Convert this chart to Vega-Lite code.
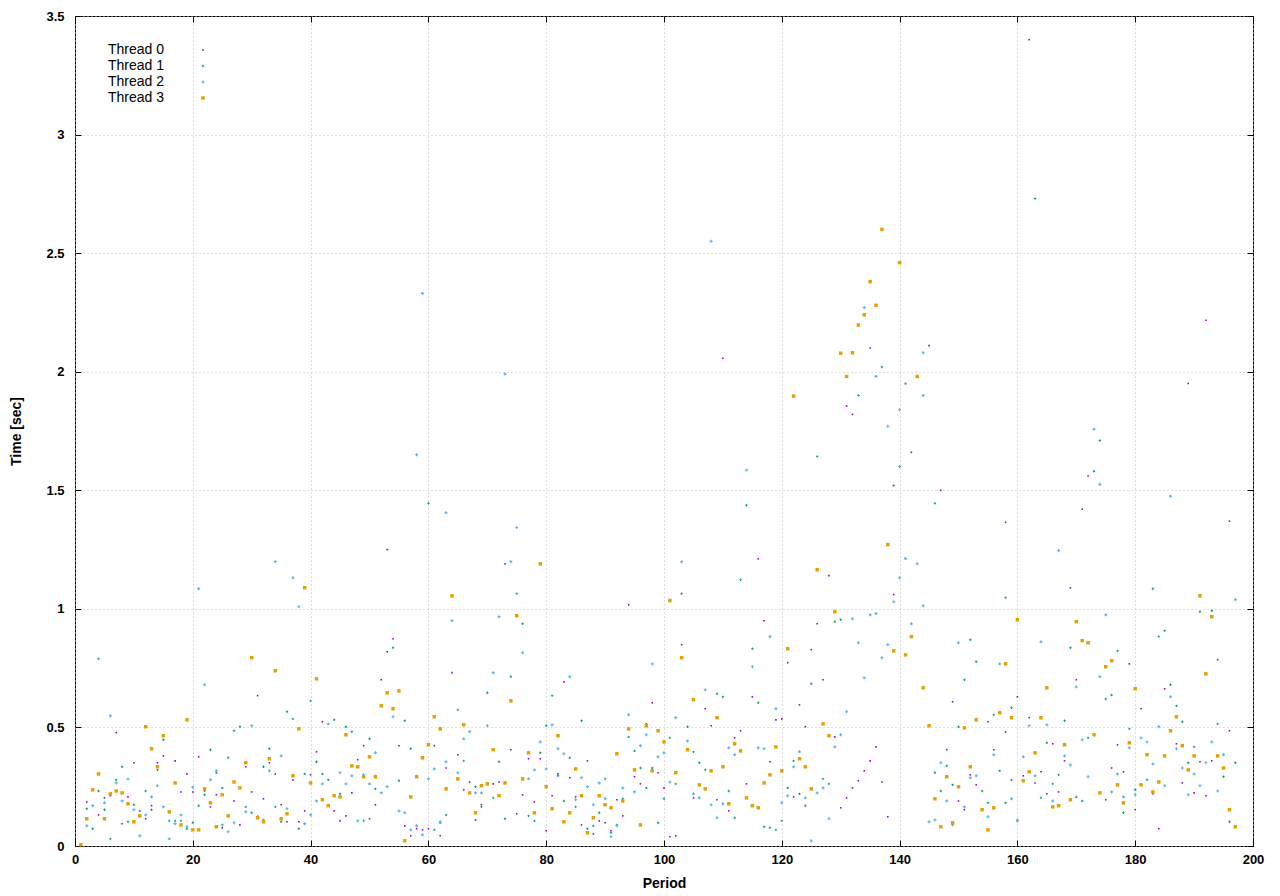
{
  "$schema": "https://vega.github.io/schema/vega-lite/v6.json",
  "autosize": {"type": "none"},
  "width": 1178,
  "height": 830,
  "padding": {"left": 75, "top": 16, "right": 27, "bottom": 50},
  "background": "white",
  "config": {
    "view": {"stroke": "black", "strokeWidth": 1},
    "font": "Liberation Sans",
    "axis": {"domain": false, "labelFont": "Liberation Sans", "titleFont": "Liberation Sans"}
  },
  "data": {"values": [
{"period":7,"time":0.478,"thread":"Thread 0"},{"period":15,"time":0.38,"thread":"Thread 0"},{"period":10,"time":0.351,"thread":"Thread 0"},{"period":14,"time":0.351,"thread":"Thread 0"},{"period":17,"time":0.359,"thread":"Thread 0"},{"period":19,"time":0.304,"thread":"Thread 0"},{"period":18,"time":0.228,"thread":"Thread 0"},{"period":20,"time":0.228,"thread":"Thread 0"},{"period":5,"time":0.203,"thread":"Thread 0"},{"period":6,"time":0.212,"thread":"Thread 0"},{"period":9,"time":0.207,"thread":"Thread 0"},{"period":2,"time":0.186,"thread":"Thread 0"},{"period":13,"time":0.17,"thread":"Thread 0"},{"period":4,"time":0.131,"thread":"Thread 0"},{"period":12,"time":0.115,"thread":"Thread 0"},{"period":8,"time":0.094,"thread":"Thread 0"},
{"period":31,"time":0.634,"thread":"Thread 0"},{"period":21,"time":0.376,"thread":"Thread 0"},{"period":29,"time":0.334,"thread":"Thread 0"},{"period":33,"time":0.351,"thread":"Thread 0"},{"period":34,"time":0.304,"thread":"Thread 0"},{"period":37,"time":0.279,"thread":"Thread 0"},{"period":22,"time":0.232,"thread":"Thread 0"},{"period":24,"time":0.216,"thread":"Thread 0"},{"period":30,"time":0.228,"thread":"Thread 0"},{"period":27,"time":0.19,"thread":"Thread 0"},{"period":32,"time":0.199,"thread":"Thread 0"},{"period":23,"time":0.165,"thread":"Thread 0"},{"period":35,"time":0.174,"thread":"Thread 0"},{"period":39,"time":0.148,"thread":"Thread 0"},{"period":36,"time":0.102,"thread":"Thread 0"},{"period":38,"time":0.102,"thread":"Thread 0"},{"period":28,"time":0.089,"thread":"Thread 0"},{"period":25,"time":0.077,"thread":"Thread 0"},{"period":40,"time":0.3,"thread":"Thread 0"},
{"period":54,"time":0.874,"thread":"Thread 0"},{"period":53,"time":0.819,"thread":"Thread 0"},{"period":52,"time":0.701,"thread":"Thread 0"},{"period":42,"time":0.524,"thread":"Thread 0"},{"period":49,"time":0.423,"thread":"Thread 0"},{"period":55,"time":0.423,"thread":"Thread 0"},{"period":41,"time":0.397,"thread":"Thread 0"},{"period":48,"time":0.364,"thread":"Thread 0"},{"period":47,"time":0.224,"thread":"Thread 0"},{"period":51,"time":0.174,"thread":"Thread 0"},{"period":44,"time":0.148,"thread":"Thread 0"},{"period":46,"time":0.127,"thread":"Thread 0"},{"period":50,"time":0.115,"thread":"Thread 0"},{"period":45,"time":0.106,"thread":"Thread 0"},{"period":56,"time":0.085,"thread":"Thread 0"},{"period":58,"time":0.073,"thread":"Thread 0"},{"period":59,"time":0.068,"thread":"Thread 0"},{"period":57,"time":0.043,"thread":"Thread 0"},{"period":60,"time":0.073,"thread":"Thread 0"},
{"period":73,"time":1.19,"thread":"Thread 0"},{"period":64,"time":0.731,"thread":"Thread 0"},{"period":61,"time":0.423,"thread":"Thread 0"},{"period":74,"time":0.406,"thread":"Thread 0"},{"period":65,"time":0.385,"thread":"Thread 0"},{"period":77,"time":0.368,"thread":"Thread 0"},{"period":79,"time":0.368,"thread":"Thread 0"},{"period":63,"time":0.329,"thread":"Thread 0"},{"period":67,"time":0.27,"thread":"Thread 0"},{"period":72,"time":0.27,"thread":"Thread 0"},{"period":71,"time":0.262,"thread":"Thread 0"},{"period":66,"time":0.237,"thread":"Thread 0"},{"period":76,"time":0.216,"thread":"Thread 0"},{"period":78,"time":0.186,"thread":"Thread 0"},{"period":69,"time":0.174,"thread":"Thread 0"},{"period":75,"time":0.136,"thread":"Thread 0"},{"period":68,"time":0.11,"thread":"Thread 0"},{"period":80,"time":0.064,"thread":"Thread 0"},{"period":62,"time":0.043,"thread":"Thread 0"},
{"period":94,"time":1.017,"thread":"Thread 0"},{"period":83,"time":0.692,"thread":"Thread 0"},{"period":98,"time":0.604,"thread":"Thread 0"},{"period":97,"time":0.515,"thread":"Thread 0"},{"period":87,"time":0.359,"thread":"Thread 0"},{"period":99,"time":0.309,"thread":"Thread 0"},{"period":82,"time":0.304,"thread":"Thread 0"},{"period":84,"time":0.288,"thread":"Thread 0"},{"period":95,"time":0.292,"thread":"Thread 0"},{"period":96,"time":0.262,"thread":"Thread 0"},{"period":100,"time":0.245,"thread":"Thread 0"},{"period":81,"time":0.212,"thread":"Thread 0"},{"period":85,"time":0.207,"thread":"Thread 0"},{"period":92,"time":0.195,"thread":"Thread 0"},{"period":93,"time":0.127,"thread":"Thread 0"},{"period":89,"time":0.106,"thread":"Thread 0"},{"period":90,"time":0.098,"thread":"Thread 0"},{"period":86,"time":0.089,"thread":"Thread 0"},{"period":91,"time":0.064,"thread":"Thread 0"},{"period":88,"time":0.051,"thread":"Thread 0"},
{"period":116,"time":1.211,"thread":"Thread 0"},{"period":117,"time":0.95,"thread":"Thread 0"},{"period":103,"time":0.849,"thread":"Thread 0"},{"period":115,"time":0.629,"thread":"Thread 0"},{"period":107,"time":0.579,"thread":"Thread 0"},{"period":119,"time":0.532,"thread":"Thread 0"},{"period":120,"time":0.536,"thread":"Thread 0"},{"period":108,"time":0.507,"thread":"Thread 0"},{"period":113,"time":0.486,"thread":"Thread 0"},{"period":112,"time":0.456,"thread":"Thread 0"},{"period":118,"time":0.355,"thread":"Thread 0"},{"period":114,"time":0.262,"thread":"Thread 0"},{"period":105,"time":0.203,"thread":"Thread 0"},{"period":109,"time":0.195,"thread":"Thread 0"},{"period":111,"time":0.148,"thread":"Thread 0"},{"period":101,"time":0.039,"thread":"Thread 0"},{"period":102,"time":0.043,"thread":"Thread 0"},
{"period":128,"time":1.14,"thread":"Thread 0"},{"period":139,"time":1.06,"thread":"Thread 0"},{"period":126,"time":0.937,"thread":"Thread 0"},{"period":125,"time":0.828,"thread":"Thread 0"},{"period":121,"time":0.773,"thread":"Thread 0"},{"period":127,"time":0.701,"thread":"Thread 0"},{"period":123,"time":0.595,"thread":"Thread 0"},{"period":124,"time":0.503,"thread":"Thread 0"},{"period":129,"time":0.46,"thread":"Thread 0"},{"period":136,"time":0.418,"thread":"Thread 0"},{"period":135,"time":0.359,"thread":"Thread 0"},{"period":134,"time":0.317,"thread":"Thread 0"},{"period":133,"time":0.275,"thread":"Thread 0"},{"period":137,"time":0.27,"thread":"Thread 0"},{"period":132,"time":0.245,"thread":"Thread 0"},{"period":122,"time":0.207,"thread":"Thread 0"},{"period":131,"time":0.203,"thread":"Thread 0"},{"period":130,"time":0.161,"thread":"Thread 0"},{"period":138,"time":0.123,"thread":"Thread 0"},
{"period":149,"time":0.608,"thread":"Thread 0"},{"period":160,"time":0.629,"thread":"Thread 0"},{"period":155,"time":0.524,"thread":"Thread 0"},{"period":158,"time":0.481,"thread":"Thread 0"},{"period":148,"time":0.406,"thread":"Thread 0"},{"period":156,"time":0.406,"thread":"Thread 0"},{"period":152,"time":0.3,"thread":"Thread 0"},{"period":159,"time":0.279,"thread":"Thread 0"},{"period":153,"time":0.258,"thread":"Thread 0"},{"period":150,"time":0.19,"thread":"Thread 0"},{"period":151,"time":0.153,"thread":"Thread 0"},
{"period":169,"time":1.089,"thread":"Thread 0"},{"period":179,"time":0.768,"thread":"Thread 0"},{"period":170,"time":0.701,"thread":"Thread 0"},{"period":162,"time":0.541,"thread":"Thread 0"},{"period":166,"time":0.431,"thread":"Thread 0"},{"period":177,"time":0.427,"thread":"Thread 0"},{"period":168,"time":0.359,"thread":"Thread 0"},{"period":176,"time":0.329,"thread":"Thread 0"},{"period":164,"time":0.313,"thread":"Thread 0"},{"period":178,"time":0.313,"thread":"Thread 0"},{"period":161,"time":0.296,"thread":"Thread 0"},{"period":163,"time":0.266,"thread":"Thread 0"},{"period":167,"time":0.228,"thread":"Thread 0"},{"period":165,"time":0.22,"thread":"Thread 0"},{"period":175,"time":0.195,"thread":"Thread 0"},{"period":180,"time":0.153,"thread":"Thread 0"},
{"period":194,"time":0.786,"thread":"Thread 0"},{"period":185,"time":0.663,"thread":"Thread 0"},{"period":181,"time":0.579,"thread":"Thread 0"},{"period":196,"time":0.486,"thread":"Thread 0"},{"period":187,"time":0.431,"thread":"Thread 0"},{"period":191,"time":0.355,"thread":"Thread 0"},{"period":193,"time":0.359,"thread":"Thread 0"},{"period":188,"time":0.266,"thread":"Thread 0"},{"period":183,"time":0.22,"thread":"Thread 0"},{"period":190,"time":0.224,"thread":"Thread 0"},{"period":192,"time":0.212,"thread":"Thread 0"},{"period":184,"time":0.073,"thread":"Thread 0"},
{"period":110,"time":2.057,"thread":"Thread 0"},{"period":131,"time":1.855,"thread":"Thread 0"},{"period":132,"time":1.82,"thread":"Thread 0"},{"period":135,"time":2.1,"thread":"Thread 0"},{"period":142,"time":1.66,"thread":"Thread 0"},{"period":145,"time":2.11,"thread":"Thread 0"},{"period":147,"time":1.5,"thread":"Thread 0"},{"period":158,"time":1.365,"thread":"Thread 0"},{"period":162,"time":3.4,"thread":"Thread 0"},{"period":171,"time":1.42,"thread":"Thread 0"},{"period":172,"time":1.56,"thread":"Thread 0"},{"period":189,"time":1.95,"thread":"Thread 0"},{"period":192,"time":2.217,"thread":"Thread 0"},{"period":196,"time":1.37,"thread":"Thread 0"},

{"period":15,"time":0.448,"thread":"Thread 1"},{"period":14,"time":0.321,"thread":"Thread 1"},{"period":8,"time":0.334,"thread":"Thread 1"},{"period":7,"time":0.279,"thread":"Thread 1"},{"period":4,"time":0.232,"thread":"Thread 1"},{"period":12,"time":0.232,"thread":"Thread 1"},{"period":10,"time":0.174,"thread":"Thread 1"},{"period":2,"time":0.157,"thread":"Thread 1"},{"period":11,"time":0.148,"thread":"Thread 1"},{"period":13,"time":0.153,"thread":"Thread 1"},{"period":16,"time":0.106,"thread":"Thread 1"},{"period":17,"time":0.106,"thread":"Thread 1"},{"period":18,"time":0.106,"thread":"Thread 1"},{"period":9,"time":0.102,"thread":"Thread 1"},{"period":3,"time":0.073,"thread":"Thread 1"},{"period":19,"time":0.073,"thread":"Thread 1"},{"period":20,"time":0.098,"thread":"Thread 1"},{"period":6,"time":0.03,"thread":"Thread 1"},{"period":5,"time":0.153,"thread":"Thread 1"},
{"period":40,"time":0.612,"thread":"Thread 1"},{"period":36,"time":0.566,"thread":"Thread 1"},{"period":37,"time":0.536,"thread":"Thread 1"},{"period":27,"time":0.486,"thread":"Thread 1"},{"period":28,"time":0.503,"thread":"Thread 1"},{"period":23,"time":0.406,"thread":"Thread 1"},{"period":26,"time":0.372,"thread":"Thread 1"},{"period":33,"time":0.41,"thread":"Thread 1"},{"period":32,"time":0.334,"thread":"Thread 1"},{"period":24,"time":0.309,"thread":"Thread 1"},{"period":39,"time":0.304,"thread":"Thread 1"},{"period":25,"time":0.245,"thread":"Thread 1"},{"period":22,"time":0.216,"thread":"Thread 1"},{"period":21,"time":0.17,"thread":"Thread 1"},{"period":29,"time":0.165,"thread":"Thread 1"},{"period":34,"time":0.165,"thread":"Thread 1"},{"period":30,"time":0.14,"thread":"Thread 1"},{"period":35,"time":0.102,"thread":"Thread 1"},{"period":38,"time":0.073,"thread":"Thread 1"},
{"period":53,"time":1.25,"thread":"Thread 1"},{"period":54,"time":0.836,"thread":"Thread 1"},{"period":44,"time":0.532,"thread":"Thread 1"},{"period":56,"time":0.528,"thread":"Thread 1"},{"period":46,"time":0.503,"thread":"Thread 1"},{"period":47,"time":0.482,"thread":"Thread 1"},{"period":50,"time":0.452,"thread":"Thread 1"},{"period":57,"time":0.41,"thread":"Thread 1"},{"period":41,"time":0.355,"thread":"Thread 1"},{"period":42,"time":0.304,"thread":"Thread 1"},{"period":43,"time":0.279,"thread":"Thread 1"},{"period":55,"time":0.275,"thread":"Thread 1"},{"period":51,"time":0.241,"thread":"Thread 1"},{"period":45,"time":0.22,"thread":"Thread 1"},{"period":49,"time":0.106,"thread":"Thread 1"},
{"period":76,"time":0.937,"thread":"Thread 1"},{"period":74,"time":0.714,"thread":"Thread 1"},{"period":70,"time":0.646,"thread":"Thread 1"},{"period":65,"time":0.574,"thread":"Thread 1"},{"period":80,"time":0.507,"thread":"Thread 1"},{"period":79,"time":0.393,"thread":"Thread 1"},{"period":66,"time":0.359,"thread":"Thread 1"},{"period":72,"time":0.355,"thread":"Thread 1"},{"period":68,"time":0.25,"thread":"Thread 1"},{"period":71,"time":0.203,"thread":"Thread 1"},{"period":69,"time":0.165,"thread":"Thread 1"},{"period":77,"time":0.127,"thread":"Thread 1"},{"period":73,"time":0.115,"thread":"Thread 1"},{"period":78,"time":0.106,"thread":"Thread 1"},{"period":62,"time":0.098,"thread":"Thread 1"},{"period":63,"time":0.131,"thread":"Thread 1"},{"period":61,"time":0.068,"thread":"Thread 1"},
{"period":81,"time":0.634,"thread":"Thread 1"},{"period":86,"time":0.528,"thread":"Thread 1"},{"period":94,"time":0.46,"thread":"Thread 1"},{"period":95,"time":0.401,"thread":"Thread 1"},{"period":84,"time":0.372,"thread":"Thread 1"},{"period":96,"time":0.329,"thread":"Thread 1"},{"period":98,"time":0.329,"thread":"Thread 1"},{"period":82,"time":0.296,"thread":"Thread 1"},{"period":90,"time":0.283,"thread":"Thread 1"},{"period":97,"time":0.245,"thread":"Thread 1"},{"period":93,"time":0.199,"thread":"Thread 1"},{"period":85,"time":0.165,"thread":"Thread 1"},{"period":89,"time":0.14,"thread":"Thread 1"},{"period":99,"time":0.098,"thread":"Thread 1"},{"period":88,"time":0.085,"thread":"Thread 1"},{"period":92,"time":0.089,"thread":"Thread 1"},{"period":87,"time":0.073,"thread":"Thread 1"},{"period":91,"time":0.056,"thread":"Thread 1"},{"period":83,"time":0.19,"thread":"Thread 1"},
{"period":113,"time":1.123,"thread":"Thread 1"},{"period":103,"time":1.064,"thread":"Thread 1"},{"period":115,"time":0.832,"thread":"Thread 1"},{"period":109,"time":0.642,"thread":"Thread 1"},{"period":110,"time":0.629,"thread":"Thread 1"},{"period":116,"time":0.604,"thread":"Thread 1"},{"period":104,"time":0.503,"thread":"Thread 1"},{"period":101,"time":0.456,"thread":"Thread 1"},{"period":105,"time":0.397,"thread":"Thread 1"},{"period":106,"time":0.351,"thread":"Thread 1"},{"period":107,"time":0.321,"thread":"Thread 1"},{"period":102,"time":0.262,"thread":"Thread 1"},{"period":111,"time":0.232,"thread":"Thread 1"},{"period":100,"time":0.199,"thread":"Thread 1"},{"period":112,"time":0.119,"thread":"Thread 1"},{"period":120,"time":0.106,"thread":"Thread 1"},{"period":117,"time":0.081,"thread":"Thread 1"},{"period":118,"time":0.077,"thread":"Thread 1"},{"period":119,"time":0.068,"thread":"Thread 1"},
{"period":129,"time":0.946,"thread":"Thread 1"},{"period":130,"time":0.954,"thread":"Thread 1"},{"period":125,"time":0.684,"thread":"Thread 1"},{"period":122,"time":0.359,"thread":"Thread 1"},{"period":127,"time":0.283,"thread":"Thread 1"},{"period":128,"time":0.262,"thread":"Thread 1"},{"period":121,"time":0.245,"thread":"Thread 1"},{"period":123,"time":0.22,"thread":"Thread 1"},{"period":124,"time":0.17,"thread":"Thread 1"},
{"period":152,"time":0.87,"thread":"Thread 1"},{"period":153,"time":0.777,"thread":"Thread 1"},{"period":151,"time":0.701,"thread":"Thread 1"},{"period":159,"time":0.583,"thread":"Thread 1"},{"period":156,"time":0.553,"thread":"Thread 1"},{"period":150,"time":0.503,"thread":"Thread 1"},{"period":148,"time":0.338,"thread":"Thread 1"},{"period":157,"time":0.317,"thread":"Thread 1"},{"period":146,"time":0.309,"thread":"Thread 1"},{"period":149,"time":0.258,"thread":"Thread 1"},{"period":147,"time":0.232,"thread":"Thread 1"},{"period":154,"time":0.232,"thread":"Thread 1"},{"period":155,"time":0.182,"thread":"Thread 1"},{"period":158,"time":0.182,"thread":"Thread 1"},{"period":160,"time":0.11,"thread":"Thread 1"},
{"period":169,"time":0.836,"thread":"Thread 1"},{"period":177,"time":0.823,"thread":"Thread 1"},{"period":176,"time":0.637,"thread":"Thread 1"},{"period":168,"time":0.528,"thread":"Thread 1"},{"period":179,"time":0.494,"thread":"Thread 1"},{"period":172,"time":0.456,"thread":"Thread 1"},{"period":165,"time":0.435,"thread":"Thread 1"},{"period":167,"time":0.3,"thread":"Thread 1"},{"period":161,"time":0.275,"thread":"Thread 1"},{"period":166,"time":0.262,"thread":"Thread 1"},{"period":180,"time":0.237,"thread":"Thread 1"},{"period":164,"time":0.203,"thread":"Thread 1"},{"period":170,"time":0.207,"thread":"Thread 1"},{"period":171,"time":0.19,"thread":"Thread 1"},{"period":178,"time":0.14,"thread":"Thread 1"},{"period":175,"time":0.62,"thread":"Thread 1"},
{"period":183,"time":1.085,"thread":"Thread 1"},{"period":191,"time":0.988,"thread":"Thread 1"},{"period":193,"time":0.992,"thread":"Thread 1"},{"period":184,"time":0.883,"thread":"Thread 1"},{"period":185,"time":0.908,"thread":"Thread 1"},{"period":186,"time":0.68,"thread":"Thread 1"},{"period":187,"time":0.591,"thread":"Thread 1"},{"period":188,"time":0.524,"thread":"Thread 1"},{"period":194,"time":0.515,"thread":"Thread 1"},{"period":190,"time":0.418,"thread":"Thread 1"},{"period":189,"time":0.351,"thread":"Thread 1"},{"period":197,"time":0.351,"thread":"Thread 1"},{"period":195,"time":0.292,"thread":"Thread 1"},{"period":182,"time":0.279,"thread":"Thread 1"},{"period":196,"time":0.102,"thread":"Thread 1"},
{"period":60,"time":1.445,"thread":"Thread 1"},{"period":114,"time":1.437,"thread":"Thread 1"},{"period":126,"time":1.643,"thread":"Thread 1"},{"period":133,"time":1.9,"thread":"Thread 1"},{"period":137,"time":2.02,"thread":"Thread 1"},{"period":139,"time":1.52,"thread":"Thread 1"},{"period":146,"time":1.445,"thread":"Thread 1"},{"period":163,"time":2.73,"thread":"Thread 1"},{"period":173,"time":1.58,"thread":"Thread 1"},{"period":174,"time":1.71,"thread":"Thread 1"},

{"period":21,"time":1.085,"thread":"Thread 2"},{"period":4,"time":0.79,"thread":"Thread 2"},{"period":6,"time":0.549,"thread":"Thread 2"},{"period":7,"time":0.266,"thread":"Thread 2"},{"period":9,"time":0.283,"thread":"Thread 2"},{"period":20,"time":0.248,"thread":"Thread 2"},{"period":14,"time":0.254,"thread":"Thread 2"},{"period":13,"time":0.207,"thread":"Thread 2"},{"period":8,"time":0.19,"thread":"Thread 2"},{"period":5,"time":0.182,"thread":"Thread 2"},{"period":3,"time":0.17,"thread":"Thread 2"},{"period":10,"time":0.153,"thread":"Thread 2"},{"period":15,"time":0.165,"thread":"Thread 2"},{"period":12,"time":0.131,"thread":"Thread 2"},{"period":18,"time":0.131,"thread":"Thread 2"},{"period":17,"time":0.094,"thread":"Thread 2"},{"period":2,"time":0.085,"thread":"Thread 2"},{"period":19,"time":0.081,"thread":"Thread 2"},{"period":11,"time":0.043,"thread":"Thread 2"},{"period":16,"time":0.03,"thread":"Thread 2"},
{"period":34,"time":1.199,"thread":"Thread 2"},{"period":37,"time":1.131,"thread":"Thread 2"},{"period":38,"time":1.009,"thread":"Thread 2"},{"period":22,"time":0.68,"thread":"Thread 2"},{"period":30,"time":0.507,"thread":"Thread 2"},{"period":35,"time":0.38,"thread":"Thread 2"},{"period":24,"time":0.317,"thread":"Thread 2"},{"period":33,"time":0.317,"thread":"Thread 2"},{"period":23,"time":0.279,"thread":"Thread 2"},{"period":36,"time":0.157,"thread":"Thread 2"},{"period":29,"time":0.144,"thread":"Thread 2"},{"period":31,"time":0.124,"thread":"Thread 2"},{"period":32,"time":0.11,"thread":"Thread 2"},{"period":27,"time":0.098,"thread":"Thread 2"},{"period":39,"time":0.094,"thread":"Thread 2"},{"period":40,"time":0.131,"thread":"Thread 2"},{"period":25,"time":0.089,"thread":"Thread 2"},{"period":26,"time":0.06,"thread":"Thread 2"},
{"period":43,"time":0.515,"thread":"Thread 2"},{"period":51,"time":0.393,"thread":"Thread 2"},{"period":45,"time":0.309,"thread":"Thread 2"},{"period":49,"time":0.3,"thread":"Thread 2"},{"period":60,"time":0.283,"thread":"Thread 2"},{"period":42,"time":0.262,"thread":"Thread 2"},{"period":46,"time":0.262,"thread":"Thread 2"},{"period":47,"time":0.296,"thread":"Thread 2"},{"period":50,"time":0.262,"thread":"Thread 2"},{"period":53,"time":0.25,"thread":"Thread 2"},{"period":52,"time":0.224,"thread":"Thread 2"},{"period":41,"time":0.19,"thread":"Thread 2"},{"period":55,"time":0.148,"thread":"Thread 2"},{"period":56,"time":0.14,"thread":"Thread 2"},{"period":48,"time":0.106,"thread":"Thread 2"},{"period":58,"time":0.085,"thread":"Thread 2"},{"period":57,"time":0.068,"thread":"Thread 2"},{"period":59,"time":0.047,"thread":"Thread 2"},{"period":54,"time":0.545,"thread":"Thread 2"},
{"period":74,"time":1.199,"thread":"Thread 2"},{"period":75,"time":1.064,"thread":"Thread 2"},{"period":64,"time":0.95,"thread":"Thread 2"},{"period":72,"time":0.967,"thread":"Thread 2"},{"period":76,"time":0.815,"thread":"Thread 2"},{"period":71,"time":0.731,"thread":"Thread 2"},{"period":70,"time":0.507,"thread":"Thread 2"},{"period":67,"time":0.482,"thread":"Thread 2"},{"period":66,"time":0.452,"thread":"Thread 2"},{"period":79,"time":0.439,"thread":"Thread 2"},{"period":63,"time":0.355,"thread":"Thread 2"},{"period":61,"time":0.325,"thread":"Thread 2"},{"period":78,"time":0.321,"thread":"Thread 2"},{"period":80,"time":0.325,"thread":"Thread 2"},{"period":65,"time":0.309,"thread":"Thread 2"},{"period":77,"time":0.283,"thread":"Thread 2"},{"period":68,"time":0.224,"thread":"Thread 2"},{"period":69,"time":0.224,"thread":"Thread 2"},{"period":62,"time":0.102,"thread":"Thread 2"},
{"period":98,"time":0.768,"thread":"Thread 2"},{"period":84,"time":0.714,"thread":"Thread 2"},{"period":94,"time":0.553,"thread":"Thread 2"},{"period":81,"time":0.511,"thread":"Thread 2"},{"period":97,"time":0.469,"thread":"Thread 2"},{"period":96,"time":0.423,"thread":"Thread 2"},{"period":82,"time":0.41,"thread":"Thread 2"},{"period":83,"time":0.389,"thread":"Thread 2"},{"period":99,"time":0.376,"thread":"Thread 2"},{"period":100,"time":0.393,"thread":"Thread 2"},{"period":86,"time":0.288,"thread":"Thread 2"},{"period":89,"time":0.266,"thread":"Thread 2"},{"period":87,"time":0.25,"thread":"Thread 2"},{"period":93,"time":0.245,"thread":"Thread 2"},{"period":95,"time":0.228,"thread":"Thread 2"},{"period":85,"time":0.195,"thread":"Thread 2"},{"period":88,"time":0.174,"thread":"Thread 2"},{"period":91,"time":0.039,"thread":"Thread 2"},{"period":90,"time":0.2,"thread":"Thread 2"},{"period":92,"time":0.085,"thread":"Thread 2"},
{"period":103,"time":1.199,"thread":"Thread 2"},{"period":118,"time":0.883,"thread":"Thread 2"},{"period":115,"time":0.756,"thread":"Thread 2"},{"period":107,"time":0.659,"thread":"Thread 2"},{"period":119,"time":0.579,"thread":"Thread 2"},{"period":102,"time":0.541,"thread":"Thread 2"},{"period":104,"time":0.443,"thread":"Thread 2"},{"period":111,"time":0.414,"thread":"Thread 2"},{"period":112,"time":0.385,"thread":"Thread 2"},{"period":116,"time":0.414,"thread":"Thread 2"},{"period":117,"time":0.41,"thread":"Thread 2"},{"period":101,"time":0.27,"thread":"Thread 2"},{"period":105,"time":0.22,"thread":"Thread 2"},{"period":106,"time":0.203,"thread":"Thread 2"},{"period":120,"time":0.182,"thread":"Thread 2"},{"period":110,"time":0.178,"thread":"Thread 2"},{"period":108,"time":0.174,"thread":"Thread 2"},{"period":109,"time":0.119,"thread":"Thread 2"},
{"period":140,"time":1.131,"thread":"Thread 2"},{"period":139,"time":1.03,"thread":"Thread 2"},{"period":132,"time":0.958,"thread":"Thread 2"},{"period":135,"time":0.975,"thread":"Thread 2"},{"period":136,"time":0.98,"thread":"Thread 2"},{"period":133,"time":0.857,"thread":"Thread 2"},{"period":138,"time":0.849,"thread":"Thread 2"},{"period":137,"time":0.794,"thread":"Thread 2"},{"period":134,"time":0.709,"thread":"Thread 2"},{"period":131,"time":0.566,"thread":"Thread 2"},{"period":130,"time":0.469,"thread":"Thread 2"},{"period":129,"time":0.418,"thread":"Thread 2"},{"period":123,"time":0.397,"thread":"Thread 2"},{"period":122,"time":0.334,"thread":"Thread 2"},{"period":127,"time":0.245,"thread":"Thread 2"},{"period":126,"time":0.224,"thread":"Thread 2"},{"period":121,"time":0.212,"thread":"Thread 2"},{"period":124,"time":0.203,"thread":"Thread 2"},{"period":128,"time":0.115,"thread":"Thread 2"},{"period":125,"time":0.022,"thread":"Thread 2"},
{"period":141,"time":1.212,"thread":"Thread 2"},{"period":143,"time":1.19,"thread":"Thread 2"},{"period":144,"time":1.013,"thread":"Thread 2"},{"period":158,"time":1.047,"thread":"Thread 2"},{"period":142,"time":0.937,"thread":"Thread 2"},{"period":150,"time":0.857,"thread":"Thread 2"},{"period":157,"time":0.768,"thread":"Thread 2"},{"period":156,"time":0.385,"thread":"Thread 2"},{"period":147,"time":0.351,"thread":"Thread 2"},{"period":152,"time":0.288,"thread":"Thread 2"},{"period":153,"time":0.296,"thread":"Thread 2"},{"period":148,"time":0.19,"thread":"Thread 2"},{"period":159,"time":0.199,"thread":"Thread 2"},{"period":151,"time":0.165,"thread":"Thread 2"},{"period":155,"time":0.123,"thread":"Thread 2"},{"period":145,"time":0.102,"thread":"Thread 2"},{"period":146,"time":0.11,"thread":"Thread 2"},{"period":149,"time":0.09,"thread":"Thread 2"},{"period":160,"time":0.105,"thread":"Thread 2"},
{"period":167,"time":1.246,"thread":"Thread 2"},{"period":175,"time":0.975,"thread":"Thread 2"},{"period":164,"time":0.861,"thread":"Thread 2"},{"period":174,"time":0.714,"thread":"Thread 2"},{"period":170,"time":0.671,"thread":"Thread 2"},{"period":162,"time":0.507,"thread":"Thread 2"},{"period":165,"time":0.511,"thread":"Thread 2"},{"period":171,"time":0.448,"thread":"Thread 2"},{"period":179,"time":0.414,"thread":"Thread 2"},{"period":161,"time":0.376,"thread":"Thread 2"},{"period":168,"time":0.38,"thread":"Thread 2"},{"period":169,"time":0.342,"thread":"Thread 2"},{"period":177,"time":0.304,"thread":"Thread 2"},{"period":163,"time":0.296,"thread":"Thread 2"},{"period":172,"time":0.292,"thread":"Thread 2"},{"period":180,"time":0.216,"thread":"Thread 2"},{"period":178,"time":0.207,"thread":"Thread 2"},{"period":166,"time":0.19,"thread":"Thread 2"},{"period":176,"time":0.228,"thread":"Thread 2"},
{"period":197,"time":1.039,"thread":"Thread 2"},{"period":186,"time":0.629,"thread":"Thread 2"},{"period":184,"time":0.503,"thread":"Thread 2"},{"period":181,"time":0.456,"thread":"Thread 2"},{"period":182,"time":0.439,"thread":"Thread 2"},{"period":193,"time":0.439,"thread":"Thread 2"},{"period":187,"time":0.41,"thread":"Thread 2"},{"period":195,"time":0.385,"thread":"Thread 2"},{"period":192,"time":0.351,"thread":"Thread 2"},{"period":183,"time":0.346,"thread":"Thread 2"},{"period":188,"time":0.329,"thread":"Thread 2"},{"period":190,"time":0.304,"thread":"Thread 2"},{"period":185,"time":0.254,"thread":"Thread 2"},{"period":191,"time":0.254,"thread":"Thread 2"},{"period":194,"time":0.232,"thread":"Thread 2"},{"period":189,"time":0.216,"thread":"Thread 2"},
{"period":58,"time":1.65,"thread":"Thread 2"},{"period":59,"time":2.33,"thread":"Thread 2"},{"period":63,"time":1.405,"thread":"Thread 2"},{"period":73,"time":1.99,"thread":"Thread 2"},{"period":75,"time":1.343,"thread":"Thread 2"},{"period":108,"time":2.55,"thread":"Thread 2"},{"period":114,"time":1.585,"thread":"Thread 2"},{"period":134,"time":2.27,"thread":"Thread 2"},{"period":136,"time":1.98,"thread":"Thread 2"},{"period":138,"time":1.77,"thread":"Thread 2"},{"period":140,"time":1.84,"thread":"Thread 2"},{"period":140,"time":1.6,"thread":"Thread 2"},{"period":141,"time":1.95,"thread":"Thread 2"},{"period":144,"time":1.9,"thread":"Thread 2"},{"period":144,"time":2.08,"thread":"Thread 2"},{"period":173,"time":1.757,"thread":"Thread 2"},{"period":174,"time":1.525,"thread":"Thread 2"},{"period":186,"time":1.475,"thread":"Thread 2"},

{"period":1,"time":0.005,"thread":"Thread 3"},{"period":12,"time":0.503,"thread":"Thread 3"},{"period":19,"time":0.532,"thread":"Thread 3"},{"period":15,"time":0.465,"thread":"Thread 3"},{"period":13,"time":0.41,"thread":"Thread 3"},{"period":14,"time":0.334,"thread":"Thread 3"},{"period":4,"time":0.304,"thread":"Thread 3"},{"period":17,"time":0.266,"thread":"Thread 3"},{"period":3,"time":0.237,"thread":"Thread 3"},{"period":6,"time":0.22,"thread":"Thread 3"},{"period":7,"time":0.232,"thread":"Thread 3"},{"period":8,"time":0.224,"thread":"Thread 3"},{"period":9,"time":0.178,"thread":"Thread 3"},{"period":16,"time":0.144,"thread":"Thread 3"},{"period":11,"time":0.127,"thread":"Thread 3"},{"period":2,"time":0.115,"thread":"Thread 3"},{"period":5,"time":0.115,"thread":"Thread 3"},{"period":10,"time":0.102,"thread":"Thread 3"},{"period":18,"time":0.089,"thread":"Thread 3"},{"period":20,"time":0.068,"thread":"Thread 3"},{"period":21,"time":0.068,"thread":"Thread 3"},
{"period":39,"time":1.089,"thread":"Thread 3"},{"period":30,"time":0.794,"thread":"Thread 3"},{"period":34,"time":0.739,"thread":"Thread 3"},{"period":38,"time":0.494,"thread":"Thread 3"},{"period":29,"time":0.351,"thread":"Thread 3"},{"period":33,"time":0.368,"thread":"Thread 3"},{"period":37,"time":0.296,"thread":"Thread 3"},{"period":27,"time":0.27,"thread":"Thread 3"},{"period":28,"time":0.245,"thread":"Thread 3"},{"period":22,"time":0.241,"thread":"Thread 3"},{"period":25,"time":0.216,"thread":"Thread 3"},{"period":23,"time":0.182,"thread":"Thread 3"},{"period":26,"time":0.127,"thread":"Thread 3"},{"period":31,"time":0.119,"thread":"Thread 3"},{"period":32,"time":0.102,"thread":"Thread 3"},{"period":36,"time":0.136,"thread":"Thread 3"},{"period":35,"time":0.115,"thread":"Thread 3"},{"period":24,"time":0.081,"thread":"Thread 3"},{"period":40,"time":0.266,"thread":"Thread 3"},
{"period":41,"time":0.705,"thread":"Thread 3"},{"period":53,"time":0.646,"thread":"Thread 3"},{"period":55,"time":0.654,"thread":"Thread 3"},{"period":52,"time":0.591,"thread":"Thread 3"},{"period":54,"time":0.579,"thread":"Thread 3"},{"period":46,"time":0.469,"thread":"Thread 3"},{"period":60,"time":0.427,"thread":"Thread 3"},{"period":50,"time":0.376,"thread":"Thread 3"},{"period":59,"time":0.372,"thread":"Thread 3"},{"period":47,"time":0.338,"thread":"Thread 3"},{"period":48,"time":0.334,"thread":"Thread 3"},{"period":49,"time":0.292,"thread":"Thread 3"},{"period":51,"time":0.292,"thread":"Thread 3"},{"period":58,"time":0.292,"thread":"Thread 3"},{"period":45,"time":0.207,"thread":"Thread 3"},{"period":44,"time":0.212,"thread":"Thread 3"},{"period":57,"time":0.207,"thread":"Thread 3"},{"period":42,"time":0.195,"thread":"Thread 3"},{"period":43,"time":0.17,"thread":"Thread 3"},{"period":56,"time":0.022,"thread":"Thread 3"},
{"period":79,"time":1.19,"thread":"Thread 3"},{"period":64,"time":1.055,"thread":"Thread 3"},{"period":75,"time":0.971,"thread":"Thread 3"},{"period":74,"time":0.612,"thread":"Thread 3"},{"period":61,"time":0.545,"thread":"Thread 3"},{"period":66,"time":0.511,"thread":"Thread 3"},{"period":62,"time":0.494,"thread":"Thread 3"},{"period":71,"time":0.406,"thread":"Thread 3"},{"period":77,"time":0.393,"thread":"Thread 3"},{"period":65,"time":0.283,"thread":"Thread 3"},{"period":76,"time":0.283,"thread":"Thread 3"},{"period":73,"time":0.266,"thread":"Thread 3"},{"period":70,"time":0.262,"thread":"Thread 3"},{"period":69,"time":0.254,"thread":"Thread 3"},{"period":80,"time":0.25,"thread":"Thread 3"},{"period":63,"time":0.241,"thread":"Thread 3"},{"period":67,"time":0.224,"thread":"Thread 3"},{"period":72,"time":0.212,"thread":"Thread 3"},{"period":68,"time":0.14,"thread":"Thread 3"},{"period":78,"time":0.14,"thread":"Thread 3"},
{"period":94,"time":0.494,"thread":"Thread 3"},{"period":97,"time":0.507,"thread":"Thread 3"},{"period":99,"time":0.486,"thread":"Thread 3"},{"period":82,"time":0.465,"thread":"Thread 3"},{"period":100,"time":0.439,"thread":"Thread 3"},{"period":92,"time":0.389,"thread":"Thread 3"},{"period":85,"time":0.325,"thread":"Thread 3"},{"period":95,"time":0.321,"thread":"Thread 3"},{"period":98,"time":0.317,"thread":"Thread 3"},{"period":86,"time":0.212,"thread":"Thread 3"},{"period":89,"time":0.212,"thread":"Thread 3"},{"period":93,"time":0.19,"thread":"Thread 3"},{"period":90,"time":0.174,"thread":"Thread 3"},{"period":91,"time":0.161,"thread":"Thread 3"},{"period":81,"time":0.157,"thread":"Thread 3"},{"period":84,"time":0.14,"thread":"Thread 3"},{"period":88,"time":0.119,"thread":"Thread 3"},{"period":83,"time":0.102,"thread":"Thread 3"},{"period":96,"time":0.089,"thread":"Thread 3"},{"period":87,"time":0.056,"thread":"Thread 3"},
{"period":101,"time":1.035,"thread":"Thread 3"},{"period":103,"time":0.794,"thread":"Thread 3"},{"period":105,"time":0.617,"thread":"Thread 3"},{"period":109,"time":0.541,"thread":"Thread 3"},{"period":112,"time":0.431,"thread":"Thread 3"},{"period":104,"time":0.406,"thread":"Thread 3"},{"period":113,"time":0.401,"thread":"Thread 3"},{"period":119,"time":0.418,"thread":"Thread 3"},{"period":110,"time":0.334,"thread":"Thread 3"},{"period":108,"time":0.317,"thread":"Thread 3"},{"period":120,"time":0.317,"thread":"Thread 3"},{"period":102,"time":0.309,"thread":"Thread 3"},{"period":118,"time":0.3,"thread":"Thread 3"},{"period":117,"time":0.266,"thread":"Thread 3"},{"period":106,"time":0.258,"thread":"Thread 3"},{"period":107,"time":0.241,"thread":"Thread 3"},{"period":114,"time":0.203,"thread":"Thread 3"},{"period":111,"time":0.178,"thread":"Thread 3"},{"period":115,"time":0.17,"thread":"Thread 3"},{"period":116,"time":0.161,"thread":"Thread 3"},
{"period":138,"time":1.271,"thread":"Thread 3"},{"period":126,"time":1.165,"thread":"Thread 3"},{"period":129,"time":0.988,"thread":"Thread 3"},{"period":121,"time":0.832,"thread":"Thread 3"},{"period":139,"time":0.823,"thread":"Thread 3"},{"period":127,"time":0.515,"thread":"Thread 3"},{"period":128,"time":0.465,"thread":"Thread 3"},{"period":123,"time":0.368,"thread":"Thread 3"},{"period":124,"time":0.334,"thread":"Thread 3"},{"period":125,"time":0.241,"thread":"Thread 3"},
{"period":160,"time":0.954,"thread":"Thread 3"},{"period":142,"time":0.883,"thread":"Thread 3"},{"period":141,"time":0.806,"thread":"Thread 3"},{"period":158,"time":0.768,"thread":"Thread 3"},{"period":144,"time":0.667,"thread":"Thread 3"},{"period":157,"time":0.562,"thread":"Thread 3"},{"period":159,"time":0.541,"thread":"Thread 3"},{"period":153,"time":0.532,"thread":"Thread 3"},{"period":145,"time":0.507,"thread":"Thread 3"},{"period":151,"time":0.498,"thread":"Thread 3"},{"period":152,"time":0.334,"thread":"Thread 3"},{"period":148,"time":0.292,"thread":"Thread 3"},{"period":150,"time":0.25,"thread":"Thread 3"},{"period":146,"time":0.199,"thread":"Thread 3"},{"period":156,"time":0.161,"thread":"Thread 3"},{"period":154,"time":0.153,"thread":"Thread 3"},{"period":149,"time":0.098,"thread":"Thread 3"},{"period":147,"time":0.081,"thread":"Thread 3"},{"period":155,"time":0.068,"thread":"Thread 3"},
{"period":170,"time":0.946,"thread":"Thread 3"},{"period":171,"time":0.866,"thread":"Thread 3"},{"period":172,"time":0.857,"thread":"Thread 3"},{"period":175,"time":0.756,"thread":"Thread 3"},{"period":176,"time":0.781,"thread":"Thread 3"},{"period":165,"time":0.667,"thread":"Thread 3"},{"period":180,"time":0.663,"thread":"Thread 3"},{"period":164,"time":0.541,"thread":"Thread 3"},{"period":173,"time":0.469,"thread":"Thread 3"},{"period":168,"time":0.427,"thread":"Thread 3"},{"period":179,"time":0.435,"thread":"Thread 3"},{"period":163,"time":0.393,"thread":"Thread 3"},{"period":162,"time":0.313,"thread":"Thread 3"},{"period":161,"time":0.275,"thread":"Thread 3"},{"period":177,"time":0.258,"thread":"Thread 3"},{"period":174,"time":0.224,"thread":"Thread 3"},{"period":169,"time":0.195,"thread":"Thread 3"},{"period":178,"time":0.182,"thread":"Thread 3"},{"period":166,"time":0.165,"thread":"Thread 3"},{"period":167,"time":0.17,"thread":"Thread 3"},
{"period":191,"time":1.055,"thread":"Thread 3"},{"period":193,"time":0.967,"thread":"Thread 3"},{"period":192,"time":0.726,"thread":"Thread 3"},{"period":187,"time":0.545,"thread":"Thread 3"},{"period":186,"time":0.486,"thread":"Thread 3"},{"period":188,"time":0.423,"thread":"Thread 3"},{"period":182,"time":0.385,"thread":"Thread 3"},{"period":185,"time":0.38,"thread":"Thread 3"},{"period":190,"time":0.38,"thread":"Thread 3"},{"period":194,"time":0.38,"thread":"Thread 3"},{"period":195,"time":0.329,"thread":"Thread 3"},{"period":189,"time":0.321,"thread":"Thread 3"},{"period":184,"time":0.27,"thread":"Thread 3"},{"period":181,"time":0.258,"thread":"Thread 3"},{"period":183,"time":0.228,"thread":"Thread 3"},{"period":196,"time":0.153,"thread":"Thread 3"},{"period":197,"time":0.081,"thread":"Thread 3"},
{"period":122,"time":1.897,"thread":"Thread 3"},{"period":130,"time":2.078,"thread":"Thread 3"},{"period":131,"time":1.98,"thread":"Thread 3"},{"period":132,"time":2.08,"thread":"Thread 3"},{"period":133,"time":2.197,"thread":"Thread 3"},{"period":134,"time":2.24,"thread":"Thread 3"},{"period":135,"time":2.38,"thread":"Thread 3"},{"period":136,"time":2.28,"thread":"Thread 3"},{"period":137,"time":2.6,"thread":"Thread 3"},{"period":140,"time":2.46,"thread":"Thread 3"},{"period":143,"time":1.98,"thread":"Thread 3"}
  ]},
  "layer": [
    {
      "mark": {"type": "point", "filled": true, "opacity": 1, "strokeWidth": 0},
      "encoding": {
        "x": {"field": "period", "type": "quantitative", "scale": {"domain": [0, 200], "nice": false, "zero": false},
          "axis": {"title": "Period", "values": [0,20,40,60,80,100,120,140,160,180,200], "format": "d", "grid": true, "gridColor": "#bbbbbb", "gridDash": [1,3], "gridWidth": 1,
            "tickSize": -6, "tickColor": "black", "labelPadding": 13, "labelFlush": false, "labelFontSize": 13, "labelFontWeight": "bold", "labelColor": "black",
            "titleFontSize": 14, "titleFontWeight": "bold", "titleColor": "black", "titlePadding": 10}},
        "y": {"field": "time", "type": "quantitative", "scale": {"domain": [0, 3.5], "nice": false, "zero": false},
          "axis": {"title": "Time [sec]", "values": [0,0.5,1,1.5,2,2.5,3,3.5], "format": "~g", "grid": true, "gridColor": "#bbbbbb", "gridDash": [1,3], "gridWidth": 1,
            "tickSize": -6, "tickColor": "black", "labelPadding": 17, "labelFlush": false, "labelFontSize": 13, "labelFontWeight": "bold", "labelColor": "black",
            "titleFontSize": 14, "titleFontWeight": "bold", "titleColor": "black", "titlePadding": 22}},
        "color": {"field": "thread", "type": "nominal",
          "scale": {"domain": ["Thread 0","Thread 1","Thread 2","Thread 3"], "range": ["#9400d3","#009e73","#56b4e9","#e69f00"]},
          "legend": {"title": null, "orient": "none", "legendX": 29, "legendY": 27, "labelFontSize": 14, "labelFont": "Liberation Sans", "labelColor": "black", "symbolOffset": 92, "labelOffset": -102, "rowPadding": 2, "padding": 0}},
        "shape": {"field": "thread", "type": "nominal", "scale": {"domain": ["Thread 0","Thread 1","Thread 2","Thread 3"], "range": ["square","cross","cross","square"]}},
        "size": {"field": "thread", "type": "nominal", "scale": {"domain": ["Thread 0","Thread 1","Thread 2","Thread 3"], "range": [2.5, 12, 12, 10]}}
      }
    },
    {
      "mark": {"type": "point", "opacity": 0},
      "encoding": {
        "x": {"field": "period", "type": "quantitative", "axis": {"orient": "top", "title": null, "labels": false, "grid": false, "values": [0,20,40,60,80,100,120,140,160,180,200], "tickSize": -6, "tickColor": "black"}},
        "y": {"field": "time", "type": "quantitative", "axis": {"orient": "right", "title": null, "labels": false, "grid": false, "values": [0,0.5,1,1.5,2,2.5,3,3.5], "tickSize": -6, "tickColor": "black"}}
      }
    }
  ],
  "resolve": {"axis": {"x": "independent", "y": "independent"}}
}
